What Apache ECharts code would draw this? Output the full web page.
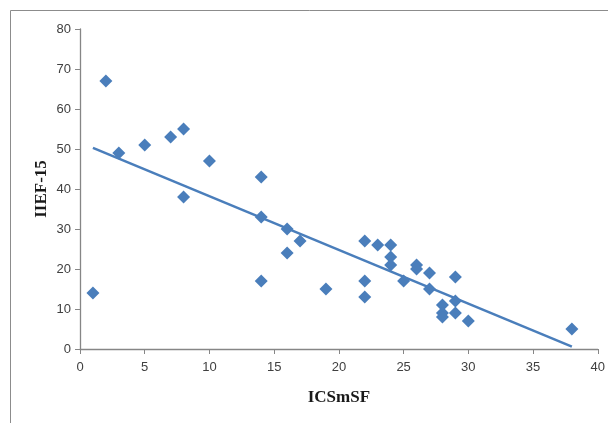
<!DOCTYPE html>
<html>
<head>
<meta charset="utf-8">
<script src="https://cdn.jsdelivr.net/npm/echarts@6/dist/echarts.min.js"></script>
<style>html,body{margin:0;padding:0;background:#fff}#c{width:608px;height:423px}</style>
</head>
<body>
<div id="c"></div>
<script>
var xValues = [1,2,3,5,7,8,8,10,14,14,14,16,16,17,19,22,22,22,23,24,24,24,25,26,26,27,27,28,28,28,29,29,29,30,38];
var yValues = [14,67,49,51,53,55,38,47,43,33,17,30,24,27,15,27,17,13,26,26,23,21,17,21,20,19,15,11,9,8,18,12,9,7,5];
var xTicks = [0,5,10,15,20,25,30,35,40];
var yTicks = [0,10,20,30,40,50,60,70,80];
var xName = 'ICSmSF';
var yName = 'IIEF-15';

var points = xValues.map(function(x,i){return [x, yValues[i]];});
// least-squares trendline from the data
var n = xValues.length, sx=0, sy=0, sxx=0, sxy=0;
for (var i=0;i<n;i++){sx+=xValues[i];sy+=yValues[i];sxx+=xValues[i]*xValues[i];sxy+=xValues[i]*yValues[i];}
var slope = (n*sxy - sx*sy)/(n*sxx - sx*sx);
var intercept = (sy - slope*sx)/n;
var xmin = Math.min.apply(null,xValues), xmax = Math.max.apply(null,xValues);
var trend = [[xmin, intercept+slope*xmin],[xmax, intercept+slope*xmax]];

var blue = '#4A7EBB';
var axisColor = '#868686';
var chart = echarts.init(document.getElementById('c'));
chart.setOption({
  animation:false,
  backgroundColor:'#fff',
  graphic:[{type:'rect',shape:{x:10.5,y:10.5,width:800,height:600},style:{fill:'none',stroke:'#8c8c8c',lineWidth:1},silent:true}],
  grid:{left:80,right:8,top:29,bottom:74},
  xAxis:{type:'value',min:xTicks[0],max:xTicks[xTicks.length-1],interval:xTicks[1]-xTicks[0],
    name:xName,nameLocation:'middle',nameGap:40,nameMoveOverlap:false,
    nameTextStyle:{fontFamily:'Liberation Serif',fontWeight:'bold',fontSize:17,color:'#1a1a1a'},
    axisLine:{lineStyle:{color:axisColor,width:1.3}},
    axisTick:{show:true,length:5,lineStyle:{color:axisColor}},
    axisLabel:{fontFamily:'Liberation Sans',fontSize:13,color:'#404040',margin:12},
    splitLine:{show:false}},
  yAxis:{type:'value',min:yTicks[0],max:yTicks[yTicks.length-1],interval:yTicks[1]-yTicks[0],
    name:yName,nameLocation:'middle',nameGap:30,nameRotate:90,nameMoveOverlap:false,
    nameTextStyle:{fontFamily:'Liberation Serif',fontWeight:'bold',fontSize:17,color:'#1a1a1a'},
    axisLine:{show:true,lineStyle:{color:axisColor,width:1.3}},
    axisTick:{show:true,length:5,lineStyle:{color:axisColor}},
    axisLabel:{fontFamily:'Liberation Sans',fontSize:13,color:'#404040',margin:9},
    splitLine:{show:false}},
  series:[
    {type:'line',data:trend,showSymbol:false,symbol:'none',lineStyle:{color:blue,width:2.5},z:2},
    {type:'scatter',data:points,symbol:'diamond',symbolSize:13,itemStyle:{color:blue,opacity:1},z:3}
  ]
});
</script>
</body>
</html>
